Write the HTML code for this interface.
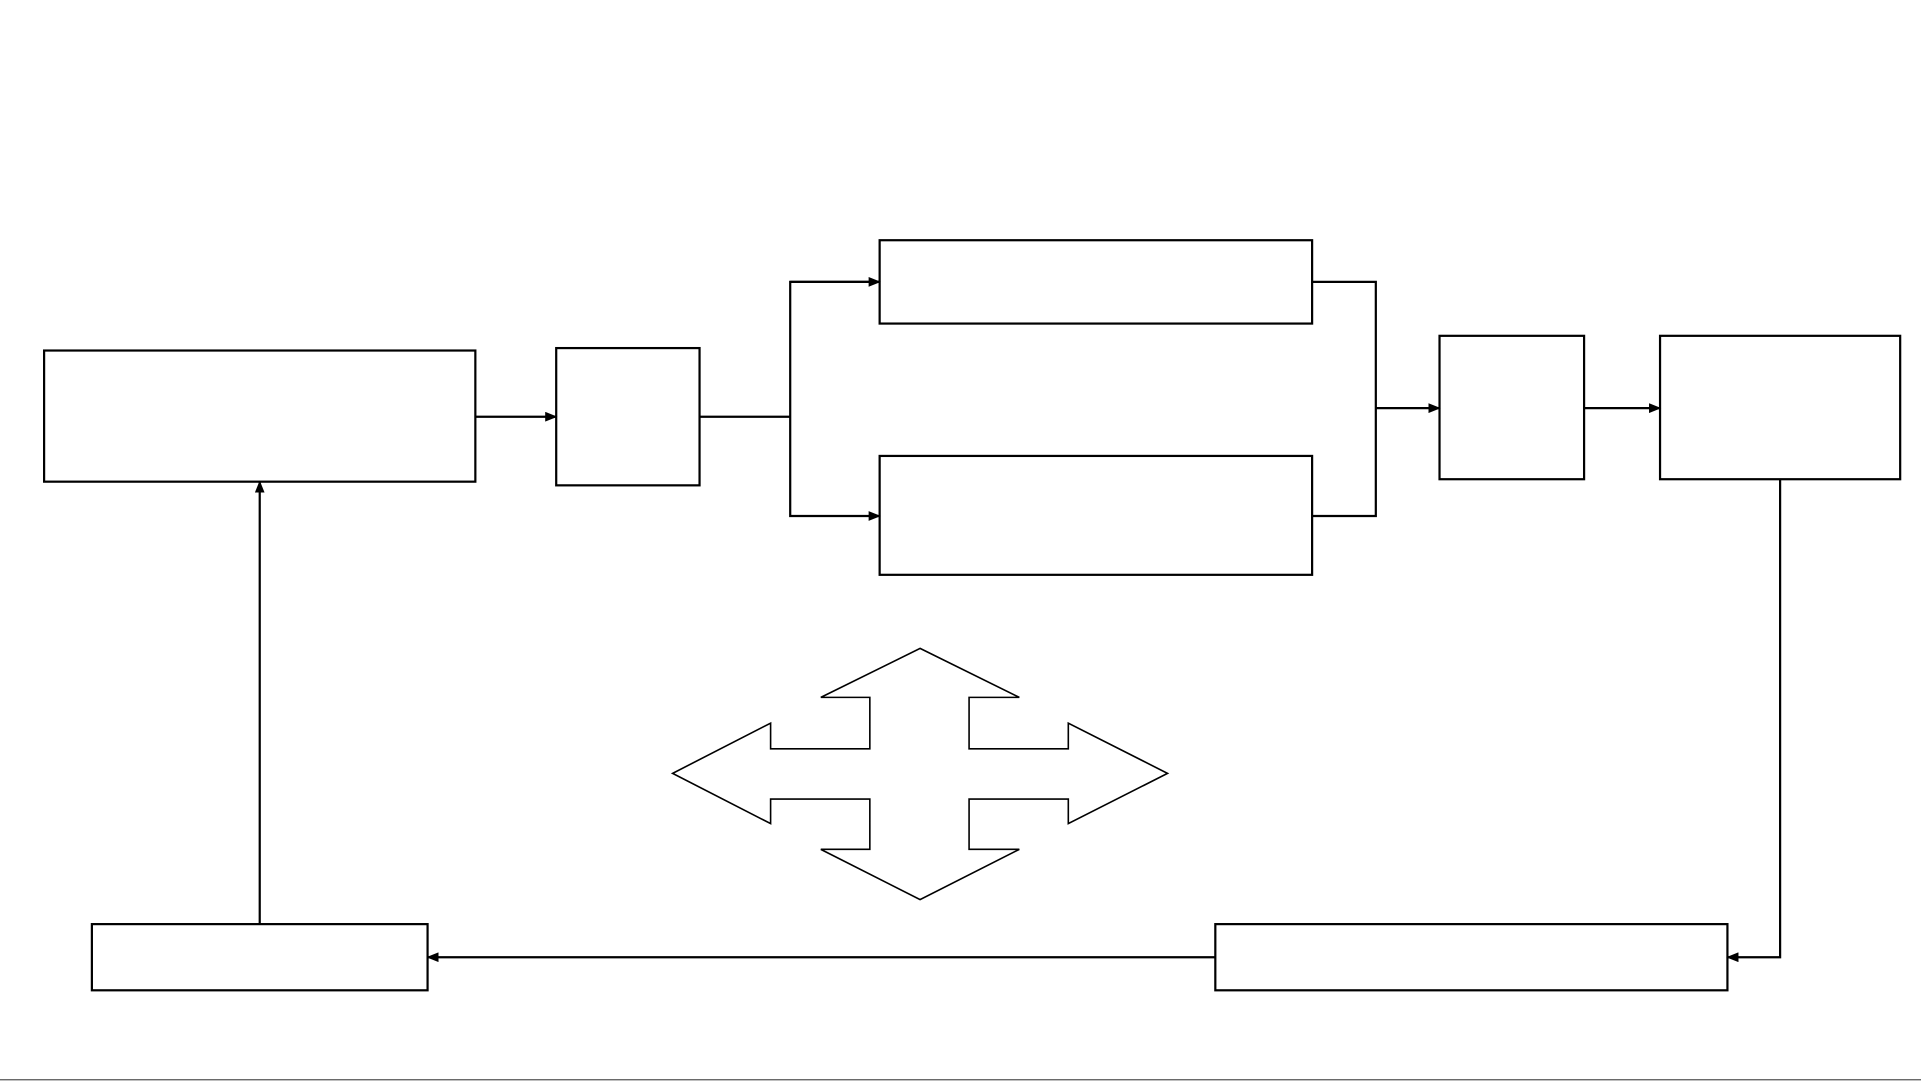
<!DOCTYPE html>
<html><head><meta charset="utf-8"><style>html,body{margin:0;padding:0;background:#fff;}svg{display:block}</style></head>
<body>
<svg width="1921" height="1081" viewBox="0 0 1568 882" preserveAspectRatio="none" xmlns="http://www.w3.org/2000/svg">
<defs><marker id="a" markerWidth="10" markerHeight="8" refX="9" refY="4" orient="auto" markerUnits="userSpaceOnUse"><path d="M0,0 L10,4 L0,8 z" fill="#000"/></marker></defs>
<g fill="#fff" stroke="#000" stroke-width="1.8">
<rect x="36" y="286" width="352" height="107"/>
<rect x="454" y="284" width="117" height="112"/>
<rect x="718" y="196" width="353" height="68"/>
<rect x="718" y="372" width="353" height="97"/>
<rect x="1175" y="274" width="118" height="117"/>
<rect x="1355" y="274" width="196" height="117"/>
<rect x="75" y="754" width="274" height="54"/>
<rect x="992" y="754" width="418" height="54"/>
</g>
<g fill="none" stroke="#000" stroke-width="1.8">
<line x1="388" y1="340" x2="454" y2="340" marker-end="url(#a)"/>
<polyline points="571,340 645,340"/>
<polyline points="718,230 645,230 645,421 718,421" marker-end="url(#a)"/>
<line x1="645" y1="230" x2="718" y2="230" marker-end="url(#a)"/>
<polyline points="1071,230 1123,230 1123,421 1071,421"/>
<line x1="1123" y1="333" x2="1175" y2="333" marker-end="url(#a)"/>
<line x1="1293" y1="333" x2="1355" y2="333" marker-end="url(#a)"/>
<polyline points="1453,391 1453,781 1410,781" marker-end="url(#a)"/>
<line x1="992" y1="781" x2="349" y2="781" marker-end="url(#a)"/>
<line x1="212" y1="754" x2="212" y2="393" marker-end="url(#a)"/>
</g>
<polygon fill="#fff" stroke="#000" stroke-width="1.3" points="751,529 832,569 791,569 791,611 872,611 872,590 953,631 872,672 872,652 791,652 791,693 832,693 751,734 670,693 710,693 710,652 629,652 629,672 549,631 629,590 629,611 710,611 710,569 670,569"/>
<line x1="0" y1="881" x2="1568" y2="881" stroke="#555" stroke-width="1"/>
</svg>
</body></html>
